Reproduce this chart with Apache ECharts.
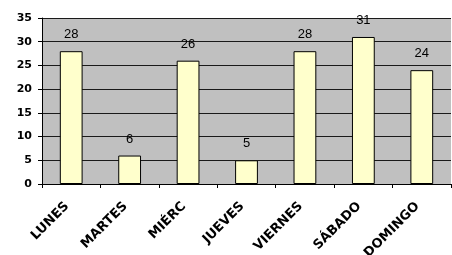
<!DOCTYPE html>
<html>
<head>
<meta charset="utf-8">
<script src="https://cdn.jsdelivr.net/npm/echarts@6/dist/echarts.min.js"></script>
<style>
  html, body { margin: 0; padding: 0; background: #fff; }
  #chart { width: 452px; height: 255px; }
</style>
</head>
<body>
<div id="chart"></div>
<script>
const days = ['LUNES', 'MARTES', 'MIÉRC', 'JUEVES', 'VIERNES', 'SÁBADO', 'DOMINGO'];
const counts = [28, 6, 26, 5, 28, 31, 24];
const yTicks = [0, 35, 5];

const chart = echarts.init(document.getElementById('chart'));

chart.setOption({
    animation: false,
    grid: {
        left: 42,
        right: 1,
        top: 18,
        bottom: 71,
        containLabel: false,
        outerBoundsMode: 'none',
        show: true,
        backgroundColor: '#c0c0c0',
        borderWidth: 0
    },
    xAxis: {
        type: 'category',
        data: days,
        axisLine: { lineStyle: { color: '#000', width: 1 } },
        axisTick: { show: true, length: 4, lineStyle: { color: '#000' } },
        axisLabel: {
            rotate: 45,
            interval: 0,
            margin: 16,
            padding: [0, 6, 0, 0],
            color: '#000',
            fontFamily: 'DejaVu Sans, sans-serif',
            fontWeight: 'bold',
            fontSize: 13
        }
    },
    yAxis: {
        type: 'value',
        min: yTicks[0],
        max: yTicks[1],
        interval: yTicks[2],
        axisLine: { show: true, lineStyle: { color: '#000', width: 1 } },
        axisTick: { show: true, length: 4, lineStyle: { color: '#000' } },
        splitLine: { lineStyle: { color: '#1a1a1a', width: 1 } },
        axisLabel: {
            margin: 10,
            color: '#000',
            fontFamily: 'DejaVu Sans, sans-serif',
            fontWeight: 'bold',
            fontSize: 11
        }
    },
    series: [{
        type: 'bar',
        data: counts,
        barWidth: '39%',
        itemStyle: {
            color: '#ffffcc',
            borderColor: '#000',
            borderWidth: 1
        },
        label: {
            show: true,
            position: 'top',
            distance: 10,
            color: '#000',
            fontFamily: 'Arial, Liberation Sans, sans-serif',
            fontSize: 13
        }
    }]
});
</script>
</body>
</html>
